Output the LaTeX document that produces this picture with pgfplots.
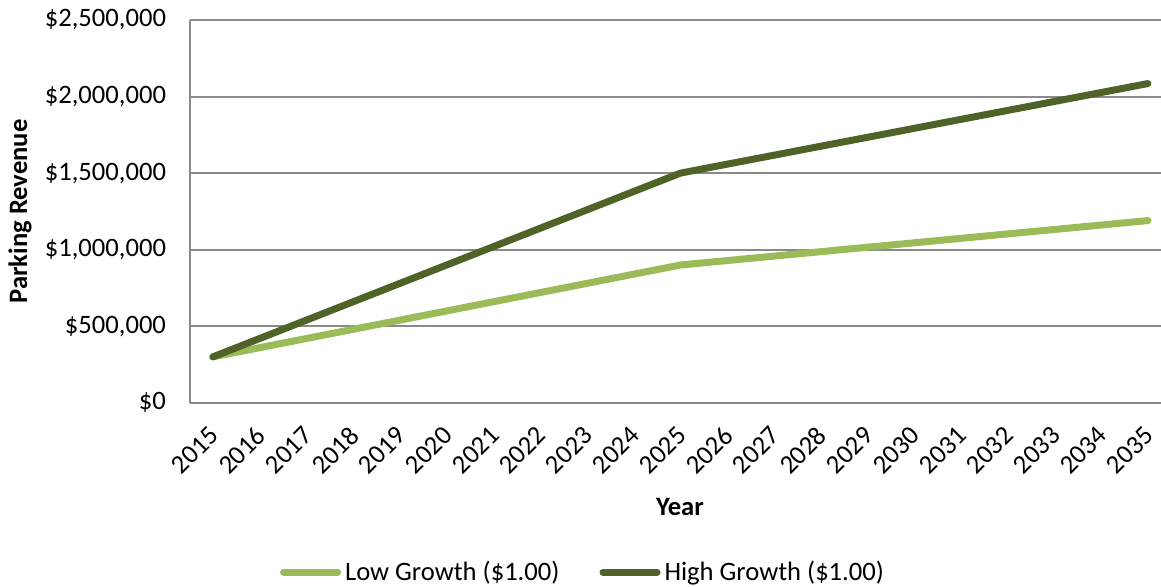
\documentclass[border=0pt]{standalone}
\usepackage{pgfplots}
\pgfplotsset{compat=1.18}
\usepackage{fontspec}
\setmainfont{Carlito}

\definecolor{lowgreen}{HTML}{9BBB59}
\definecolor{highgreen}{HTML}{4F6228}
\definecolor{gridgray}{HTML}{8A8A8A}

\begin{document}
\begin{tikzpicture}
\begin{axis}[
  scale only axis,
  width=485.5pt, height=191.4pt,
  xmin=2014.51, xmax=2035.28,
  ymin=0, ymax=2500000,
  scaled y ticks=false,
  axis x line*=bottom, axis y line*=left,
  axis line style={draw=gridgray, line width=1pt, -},
  major tick length=0pt,
  ymajorgrids,
  grid style={draw=gridgray, line width=1pt},
  xtick={2015,2016,...,2035},
  xticklabels={2015,2016,2017,2018,2019,2020,2021,2022,2023,2024,2025,2026,2027,2028,2029,2030,2031,2032,2033,2034,2035},
  ytick={0,500000,1000000,1500000,2000000,2500000},
  yticklabels={\$0,{\$500,000},{\$1,000,000},{\$1,500,000},{\$2,000,000},{\$2,500,000}},
  xticklabel style={font=\fontsize{13.3}{15}\selectfont, xshift=-2.5pt, yshift=-9.3pt, rotate=45, anchor=north east, inner sep=1pt},
  yticklabel style={font=\fontsize{13.3}{15}\selectfont, anchor=east, xshift=-8.5pt},
  xlabel={\textbf{Year}},
  ylabel={\textbf{Parking Revenue}},
  xlabel style={font=\fontsize{13.3}{15}\selectfont, at={(axis description cs:0.5046,-0.2725)}, anchor=center},
  ylabel style={font=\fontsize{13.3}{15}\selectfont, at={(axis description cs:-0.175,0.5)}, anchor=center},
  legend columns=2,
  legend style={draw=none, fill=none, font=\fontsize{13.3}{15}\selectfont,
    at={(axis description cs:0.4058,-0.4424)}, anchor=center,
    /tikz/every even column/.append style={column sep=18pt},
    inner sep=0pt, row sep=0pt},
  legend cell align=left,
  legend image code/.code={\draw[#1, line cap=round] (0pt,0pt) -- (27pt,0pt);},
  every axis plot/.append style={line width=3.5pt, line cap=round, line join=round},
]
\addplot[color=lowgreen] coordinates {(2015,300000) (2025,900000) (2035,1190000)};
\addlegendentry{Low Growth (\$1.00)}
\addplot[color=highgreen] coordinates {(2015,300000) (2025,1500000) (2035,2085000)};
\addlegendentry{High Growth (\$1.00)}
\end{axis}
\pgfresetboundingbox
\path[use as bounding box] (-95pt,-91.65pt) rectangle (485.5pt,201.4pt);
\end{tikzpicture}
\end{document}
